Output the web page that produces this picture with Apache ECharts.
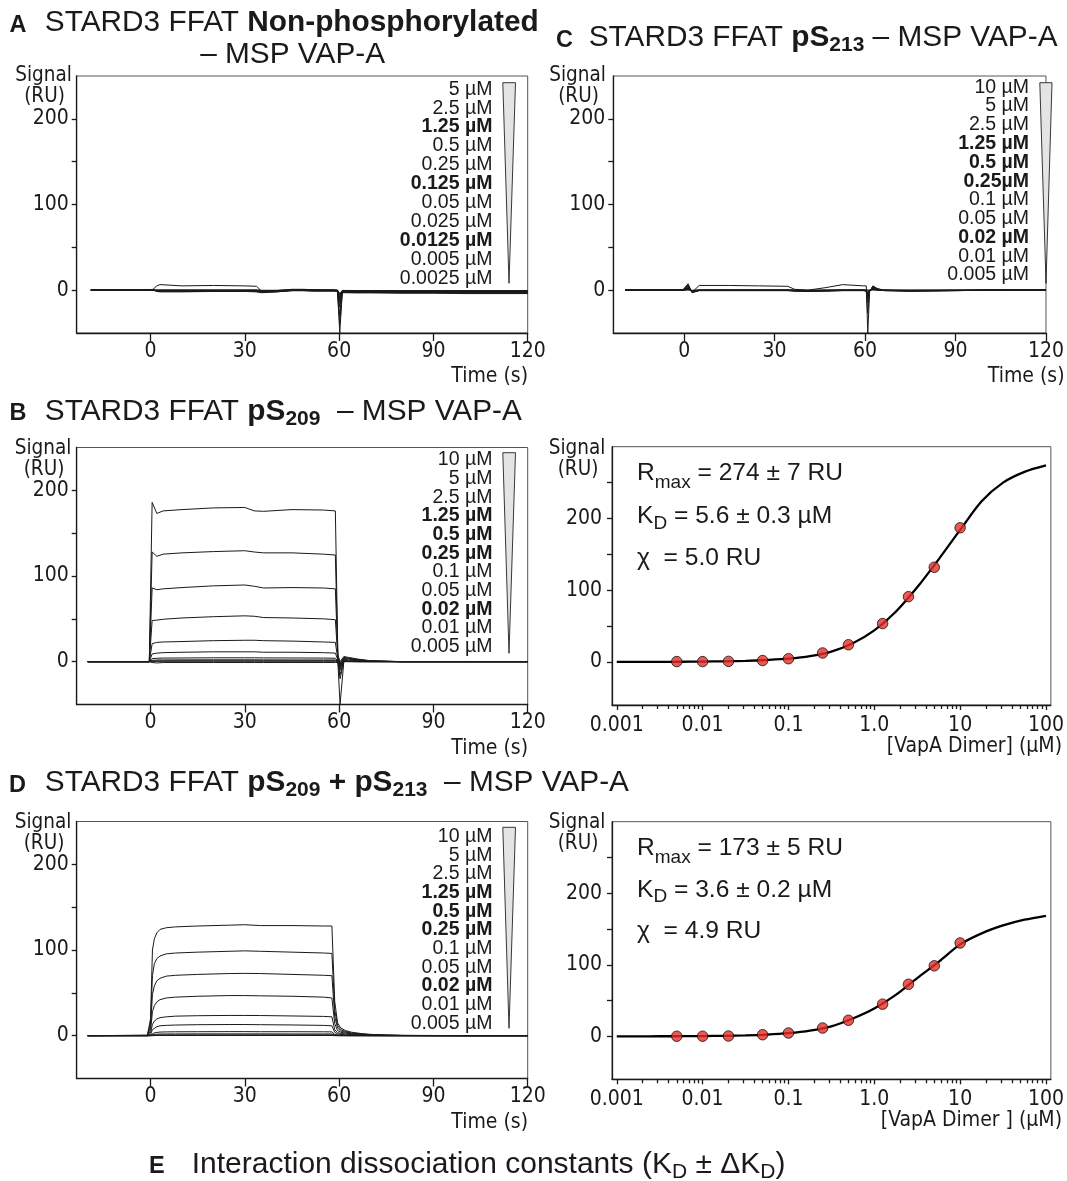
<!DOCTYPE html>
<html><head><meta charset="utf-8">
<script src="https://cdn.jsdelivr.net/npm/echarts@6/dist/echarts.min.js"></script>
<style>html,body{margin:0;padding:0;background:#fff}#c{width:1067px;height:1181px}</style>
</head><body><div id="c"></div>
<script>
// ---------------- DATA ----------------
const timeTicks = [0, 30, 60, 90, 120];
const sigTicks = [0, 50, 100, 150, 200];
const sigLabels = [0, 100, 200];
const fitTicks = [0, 50, 100, 150, 200, 250];
const fitLabels = [0, 100, 200];
const concTickVals = [0.001, 0.01, 0.1, 1, 10, 100];
const concTickLabels = ['0.001', '0.01', '0.1', '1.0', '10', '100'];
const minorMult = [2, 3, 4, 5, 6, 7, 8, 9];
const minorDecades = [0.001, 0.01, 0.1, 1, 10];

// Panel A (non-phosphorylated)
const concA = ['5 µM','2.5 µM','1.25 µM','0.5 µM','0.25 µM','0.125 µM','0.05 µM','0.025 µM','0.0125 µM','0.005 µM','0.0025 µM'];
const boldA = ['1.25 µM','0.125 µM','0.0125 µM'];
const timeA = [-19, -1, 0.8, 2, 3, 10, 20, 30, 33.7, 35.3, 40, 45, 48.5, 52, 58.5, 59.5, 60.2, 61, 65, 70, 80, 90, 100, 110, 120];
const respA = [
  [0,0,1,5,6.5,5,5.5,5,4.5,-1,-0.5,1,1,0.5,0,-2,-50,-3,-3,-3,-3.5,-3.5,-4,-4,-4],
  [0,0,0,-1.5,-2,-2,-1.5,-1.5,-2,-3,-2,-0.5,-0.5,-1,-1,-2,-40,-2.5,-3,-3,-3,-3,-3.5,-3.5,-3.5],
  [0,0,0,-1,-1.5,-1.5,-1.2,-1.2,-1.5,-2.5,-2,-0.5,-0.5,-1,-1,-1.5,-30,-2,-2.5,-2.5,-3,-3,-3,-3,-3],
  [0,0,0,-1,-1,-1,-1,-1,-1,-2,-1.5,-0.5,-0.5,-0.5,-0.5,-1,-20,-2,-2,-2.5,-2.5,-2.5,-2.5,-3,-3],
  [0,0,0,-0.5,-0.8,-0.8,-0.8,-0.8,-1,-1.5,-1.2,-0.3,-0.3,-0.5,-0.5,-1,-15,-1.5,-2,-2,-2,-2,-2,-2.5,-2.5],
  [0,0,0,-0.5,-0.5,-0.5,-0.5,-0.5,-0.5,-1,-1,-0.2,-0.2,-0.3,-0.3,-0.5,-12,-1.5,-1.5,-1.5,-1.8,-1.8,-2,-2,-2],
  [0,0,0,-0.3,-0.3,-0.3,-0.3,-0.3,-0.3,-0.8,-0.8,0,0,-0.2,-0.2,-0.5,-10,-1,-1.2,-1.2,-1.5,-1.5,-1.5,-1.5,-1.5],
  [0,0,0,-0.2,-0.2,-0.2,-0.2,-0.2,-0.2,-0.5,-0.5,0,0,0,0,-0.3,-8,-1,-1,-1,-1.2,-1.2,-1.2,-1.2,-1.2],
  [0,0,0,-0.1,-0.1,-0.1,-0.1,-0.1,-0.1,-0.4,-0.4,0,0,0,0,-0.2,-6,-0.8,-0.8,-0.8,-1,-1,-1,-1,-1],
  [0,0,0,0,0,0,0,0,0,-0.3,-0.3,0,0,0,0,-0.1,-5,-0.5,-0.6,-0.6,-0.8,-0.8,-0.8,-0.8,-0.8],
  [0,0,0,0,0,0,0,0,0,-0.2,-0.2,0,0,0,0,0,-4,-0.3,-0.4,-0.4,-0.5,-0.5,-0.5,-0.5,-0.5]
];

// Panel C (pS213)
const concC = ['10 µM','5 µM','2.5 µM','1.25 µM','0.5 µM','0.25µM','0.1 µM','0.05 µM','0.02 µM','0.01 µM','0.005 µM'];
const boldC = ['1.25 µM','0.5 µM','0.25µM','0.02 µM'];
const timeC = [-19.5, -0.5, 1.3, 2.6, 5, 15, 25, 34.4, 36.6, 41, 47, 52.6, 59.6, 60.4, 60.9, 61.5, 62.6, 64, 66.3, 75, 90, 105, 120];
const respC = [
  [0,0,7.5,-2.5,5.5,5.5,5,4.5,1,0,3,6.5,5,5,-50,-2,5,2,0,-1,-0.5,0,0],
  [0,0,6,-3,-0.5,-0.5,-0.5,-0.5,-1,-1.5,-1,-0.5,-0.5,-1,-27,-1.5,4.5,1.5,-0.5,-1,-0.5,0,0],
  [0,0,5,-2.5,-0.5,-0.5,-0.5,-0.5,-1,-1.5,-1,-0.5,-0.5,-1,-15,-1,4,1.5,-0.5,-1,-0.5,0,0],
  [0,0,4,-2,-0.3,-0.3,-0.3,-0.3,-0.8,-1.2,-0.8,-0.3,-0.3,-0.8,-10,-1,3.5,1,-0.5,-0.8,-0.5,0,0],
  [0,0,3,-1.5,-0.2,-0.2,-0.2,-0.2,-0.5,-1,-0.5,-0.2,-0.2,-0.5,-8,-0.8,3,1,-0.3,-0.8,-0.3,0,0],
  [0,0,2.5,-1.2,-0.2,-0.2,-0.2,-0.2,-0.5,-0.8,-0.5,-0.2,-0.2,-0.5,-6,-0.5,2.5,0.8,-0.3,-0.5,-0.3,0,0],
  [0,0,2,-1,0,0,0,0,-0.3,-0.5,-0.3,0,0,-0.3,-5,-0.5,2,0.5,-0.2,-0.5,-0.2,0,0],
  [0,0,1.5,-0.8,0,0,0,0,-0.2,-0.4,-0.2,0,0,-0.2,-4,-0.3,1.5,0.5,-0.2,-0.3,-0.2,0,0],
  [0,0,1,-0.5,0,0,0,0,-0.1,-0.3,-0.1,0,0,-0.1,-3,-0.2,1,0.3,0,-0.2,-0.1,0,0],
  [0,0,0.5,-0.3,0,0,0,0,0,-0.2,0,0,0,0,-2,-0.1,0.5,0.2,0,-0.1,0,0,0],
  [0,0,0.3,-0.2,0,0,0,0,0,-0.1,0,0,0,0,-1,0,0.3,0.1,0,0,0,0,0]
];

// Panel B (pS209)
const concB = ['10 µM','5 µM','2.5 µM','1.25 µM','0.5 µM','0.25 µM','0.1 µM','0.05 µM','0.02 µM','0.01 µM','0.005 µM'];
const boldB = ['1.25 µM','0.5 µM','0.25 µM','0.02 µM'];
const timeB = [-20, -0.4, 0.5, 2, 4, 10, 20, 30, 33, 36, 45, 55, 58.8, 59.6, 60.3, 61.5, 63, 66, 70, 80, 100, 120];
const respB = [
  [0,0,186,173,176,177.5,179.5,180,176,175.5,177.5,177,176,8,0,6,5,3,1,0,0,0],
  [0,0,128,123,125.5,127,128.5,129.5,128,127,127,125.5,124.5,6,-2,5,4,2.5,1,0,0,0],
  [0,0,86,84,85,86.5,88.5,89.5,88,86,86.5,86,85,5,-3,4,3.5,2,0.8,0,0,0],
  [0,0,48,48.5,49.5,51,52.5,53.5,53,51.5,51,50,49,4,-4,3.5,3,1.5,0.6,0,0,0],
  [0,0,21,22.5,23,23.5,24.5,25,25,24.5,24,23,22.5,3,-5,2.5,2,1,0.4,0,0,0],
  [0,0,9,10,10.5,11,11.5,11.5,11.5,11,11,10.5,10,2,-6,1.5,1,0.5,0.2,0,0,0],
  [0,0,3.5,4,4.2,4.3,4.5,4.5,4.5,4.4,4.3,4.2,4,1,-8,1,0.5,0.3,0.1,0,0,0],
  [0,0,1.5,2,2,2.1,2.2,2.2,2.2,2.1,2,2,2,0.5,-10,0.5,0.3,0.1,0,0,0,0],
  [0,0,0.6,0.8,0.9,1,1,1,1,1,1,1,1,0.3,-15,0.3,0.2,0,0,0,0,0],
  [0,0,0.3,0.4,0.5,0.5,0.5,0.5,0.5,0.5,0.5,0.5,0.5,0.1,-20,0.2,0.1,0,0,0,0,0],
  [0,0,-1,-1.5,-1,-1,-1,-1,-1,-1,-1,-1,-1,-1,-50,0,0,0,0,0,0,0]
];

// Panel D (pS209 + pS213)
const concD = ['10 µM','5 µM','2.5 µM','1.25 µM','0.5 µM','0.25 µM','0.1 µM','0.05 µM','0.02 µM','0.01 µM','0.005 µM'];
const boldD = ['1.25 µM','0.5 µM','0.25 µM','0.02 µM'];
const timeD = [-20, -1, 0, 0.6, 1.2, 2, 3, 5, 8, 15, 25, 30, 35, 45, 55, 57.7, 58.6, 59.5, 60.5, 62, 64, 67, 70, 75, 80, 90, 100, 120];
const respD = [
  [0,0.5,20,100,113,120,124,126,127,128,129,129.5,128.5,128.5,128,128,40,15,9,6,4,2.5,1.5,0.8,0.4,0.2,0,0],
  [0,0.4,15,70,84,90,93,95.5,96.5,97.5,98.5,99,98.5,97.5,96.5,96,30,12,7,5,3,2,1.2,0.6,0.3,0.1,0,0],
  [0,0.3,10,48,58,64,67,69.5,70.5,71.5,72.5,72.7,72.5,71.5,70.5,70,22,9,5.5,4,2.5,1.5,1,0.5,0.2,0.1,0,0],
  [0,0.2,6,28,35,39.5,42,44,45,46,46.8,46.8,46.5,46,45,44,14,6,4,3,2,1.2,0.8,0.4,0.2,0,0,0],
  [0,0.1,3,13,17,19.5,21,22,22.8,23.3,23.6,23.6,23.5,23,22.5,22,7,3.5,2.5,2,1.2,0.8,0.5,0.2,0.1,0,0,0],
  [0,0.1,1.5,7,9,10.5,11.5,12,12.4,12.8,13,13,12.8,12.5,12,11.5,4,2,1.5,1,0.7,0.4,0.3,0.1,0,0,0,0],
  [0,0,0.5,2.5,3.3,3.8,4.2,4.4,4.5,4.6,4.7,4.7,4.6,4.6,4.5,4.4,1.5,0.8,0.6,0.4,0.3,0.2,0.1,0,0,0,0,0],
  [0,0,0.2,1.1,1.5,1.7,1.9,2,2,2.1,2.1,2.1,2.1,2,2,2,0.7,0.4,0.3,0.2,0.1,0.1,0,0,0,0,0,0],
  [0,0,0.1,0.4,0.6,0.7,0.7,0.8,0.8,0.8,0.8,0.8,0.8,0.8,0.8,0.8,0.3,0.2,0.1,0.1,0,0,0,0,0,0,0,0],
  [0,0,0,0.2,0.3,0.3,0.4,0.4,0.4,0.4,0.4,0.4,0.4,0.4,0.4,0.4,0.1,0.1,0,0,0,0,0,0,0,0,0,0],
  [0,0,0,0.1,0.1,0.2,0.2,0.2,0.2,0.2,0.2,0.2,0.2,0.2,0.2,0.2,0.1,0,0,0,0,0,0,0,0,0,0,0]
];

// Steady-state fits (B: pS209, D: pS209 + pS213)
const fitConc = [0.005, 0.01, 0.02, 0.05, 0.1, 0.25, 0.5, 1.25, 2.5, 5, 10];
const fitRespB = [0.5, 0.5, 0.8, 2, 4.5, 12.5, 24, 53.5, 91, 132, 187];
const fitRespD = [0.2, 0.2, 0.5, 2.3, 4.7, 11.7, 22.5, 45, 72.8, 98.6, 130.5];
const curveConc = [0.001, 0.00178, 0.00316, 0.00562, 0.01, 0.0178, 0.0316, 0.0562, 0.1, 0.178, 0.316, 0.562, 1, 1.78, 3.16, 5.62, 10, 17.8, 31.6, 56.2, 100];
const curveB = [0.05, 0.1, 0.15, 0.3, 0.5, 0.9, 1.5, 2.7, 4.5, 8, 14.5, 26, 44, 70, 104, 143, 184, 224, 250, 265, 274];
const curveD = [0.05, 0.08, 0.15, 0.25, 0.45, 0.8, 1.4, 2.5, 4.5, 8, 14, 25, 39, 58, 81.5, 104, 128.5, 144, 155, 163, 168.5];

// ---------------- STYLE / LAYOUT ----------------
const SANS = "'Liberation Sans', Arial, Helvetica, sans-serif";
const NARROW = "'Liberation Sans Narrow', 'Arial Narrow', 'DejaVu Sans Condensed', sans-serif";
const INK = '#1a1a1a';
const LOGMIN = 0.00088, LOGMAX = 114;

const grids = [
  {left: 76.7, top: 76, width: 451, height: 257},      // 0 A
  {left: 613.3, top: 76, width: 451, height: 257},     // 1 C
  {left: 76.7, top: 447.5, width: 451, height: 257},   // 2 B sensorgram
  {left: 612, top: 446.7, width: 452, height: 258.3},  // 3 B fit
  {left: 76.7, top: 821.5, width: 451, height: 257},   // 4 D sensorgram
  {left: 612, top: 821.7, width: 452, height: 257.6}   // 5 D fit
].map(g => Object.assign({show: true, borderColor: '#555', borderWidth: 1, backgroundColor: 'transparent', containLabel: false}, g));

const axLine = {show: true, onZero: false, lineStyle: {color: INK, width: 1.3}};
const tickStyle = {color: INK, width: 1.3};
const labelNarrow = {fontFamily: NARROW, fontSize: 21, color: INK};

function timeAxis(gi) {
  return {type: 'value', gridIndex: gi, min: -23.5, max: 120, position: 'bottom',
    axisLine: axLine, splitLine: {show: false},
    axisTick: {show: true, customValues: timeTicks, length: 8, lineStyle: tickStyle},
    axisLabel: Object.assign({customValues: timeTicks, margin: 8}, labelNarrow)};
}
function sigAxis(gi) {
  return {type: 'value', gridIndex: gi, min: -50, max: 250, position: 'left',
    axisLine: axLine, splitLine: {show: false},
    axisTick: {show: true, customValues: sigTicks, length: 5, lineStyle: tickStyle},
    axisLabel: Object.assign({customValues: sigLabels, margin: 8}, labelNarrow)};
}
function concAxis(gi) {
  return {type: 'log', logBase: 10, gridIndex: gi, min: LOGMIN, max: LOGMAX, position: 'bottom',
    axisLine: axLine, splitLine: {show: false},
    axisTick: {show: true, length: 5, lineStyle: tickStyle},
    axisLabel: Object.assign({margin: 10, showMinLabel: false, showMaxLabel: false,
      formatter: v => { const i = concTickVals.findIndex(t => Math.abs(Math.log10(v / t)) < 1e-6); return i >= 0 ? concTickLabels[i] : ''; }}, labelNarrow)};
}
const minorExp = [];
minorDecades.forEach(d => minorMult.forEach(m => minorExp.push(Math.log10(m * d))));
function minorAxis(gi) {
  return {type: 'value', gridIndex: gi, min: Math.log10(LOGMIN), max: Math.log10(LOGMAX), position: 'bottom',
    axisLine: {show: false, onZero: false}, axisLabel: {show: false}, splitLine: {show: false},
    axisTick: {show: true, customValues: minorExp, length: 4, lineStyle: tickStyle}};
}
function fitAxis(gi) {
  return {type: 'value', gridIndex: gi, min: -60, max: 300, position: 'left',
    axisLine: axLine, splitLine: {show: false},
    axisTick: {show: true, customValues: fitTicks, length: 5, lineStyle: tickStyle},
    axisLabel: Object.assign({customValues: fitLabels, margin: 10}, labelNarrow)};
}

function traces(ai, times, resp) {
  return resp.map(arr => ({type: 'line', xAxisIndex: ai, yAxisIndex: ai, symbol: 'none', showSymbol: false,
    silent: true, lineStyle: {color: INK, width: 1}, data: times.map((t, k) => [t, arr[k]]), z: 2}));
}
function fitSeries(ai, resp, curve) {
  return [
    {type: 'line', xAxisIndex: ai, yAxisIndex: ai, symbol: 'none', showSymbol: false, silent: true,
      smooth: 0.3, lineStyle: {color: '#000', width: 2.3},
      data: curveConc.map((c, k) => [c, curve[k]]), z: 3},
    {type: 'scatter', xAxisIndex: ai, yAxisIndex: ai, symbol: 'circle', symbolSize: 10.5, silent: true,
      itemStyle: {color: '#e3312a', borderColor: '#111', borderWidth: 1},
      data: fitConc.map((c, k) => [c, resp[k]]), z: 5}
  ];
}

// ---------------- GRAPHIC TEXT ----------------
function T(x, y, text, fs, opts) {
  opts = opts || {};
  const align = opts.align || 'left', va = opts.va || 'middle';
  return {type: 'text', x: x, y: y, silent: true, z: 100,
    style: {text: text, fill: INK, fontFamily: opts.family || SANS, fontSize: fs, fontWeight: opts.weight || 'normal',
      align: align, textAlign: align, verticalAlign: va, textVerticalAlign: va, rich: opts.rich}};
}
const TFS = 29.8;
const titleRich = {
  n: {fontFamily: SANS, fontSize: TFS, lineHeight: 30, verticalAlign: 'top', fill: INK},
  b: {fontFamily: SANS, fontSize: TFS, fontWeight: 'bold', lineHeight: 30, verticalAlign: 'top', fill: INK},
  s: {fontFamily: SANS, fontSize: 21, fontWeight: 'bold', lineHeight: 21, padding: [12, 0, 0, 0], verticalAlign: 'top', fill: INK}
};
const eRich = {
  n: {fontFamily: SANS, fontSize: 30, lineHeight: 30, verticalAlign: 'top', fill: INK},
  s: {fontFamily: SANS, fontSize: 21, lineHeight: 21, padding: [12, 0, 0, 0], verticalAlign: 'top', fill: INK}
};
const fitRich = {
  n: {fontFamily: SANS, fontSize: 24.6, lineHeight: 25, verticalAlign: 'top', fill: INK},
  m: {fontFamily: SANS, fontSize: 19, lineHeight: 19, padding: [12.6, 0, 0, 0], verticalAlign: 'top', fill: INK},
  d: {fontFamily: SANS, fontSize: 19, lineHeight: 19, padding: [9.9, 0, 0, 0], verticalAlign: 'top', fill: INK}
};

const graphics = [];
function panelLabel(x, baseline, ch) { graphics.push(T(x, baseline - 0.3465 * 23.5, ch, 23.5, {weight: 'bold'})); }
function titleRichText(x, baseline, str) { graphics.push(T(x, baseline - 25.3, str, TFS, {va: 'top', rich: titleRich})); }

panelLabel(9.5, 33.3, 'A');
titleRichText(44.8, 33.3, '{n|STARD3 FFAT }{b|Non-phosphorylated}');
graphics.push(T(292.6, 65 - 0.3465 * TFS, '– MSP VAP-A', TFS, {align: 'center'}));
panelLabel(556, 48.3, 'C');
titleRichText(588.7, 48.3, '{n|STARD3 FFAT }{b|pS}{s|213}{n| – MSP VAP-A}');
panelLabel(9.5, 421.7, 'B');
titleRichText(44.8, 421.7, '{n|STARD3 FFAT }{b|pS}{s|209}{n|  – MSP VAP-A}');
panelLabel(9, 793.3, 'D');
titleRichText(44.8, 793.3, '{n|STARD3 FFAT }{b|pS}{s|209}{b| + pS}{s|213}{n|  – MSP VAP-A}');
panelLabel(149, 1175, 'E');
graphics.push(T(191.7, 1175 - 25.4, '{n|Interaction dissociation constants (K}{s|D}{n| ± ΔK}{s|D}{n|)}', 30, {va: 'top', rich: eRich}));

// Signal (RU) axis titles
[[43.5, 76], [577.5, 76], [43, 449], [577, 448.5], [43, 823], [577, 823]].forEach(p => {
  graphics.push(T(p[0], p[1], 'Signal', 20.5, {align: 'center', family: NARROW}));
  graphics.push(T(p[0] + 1, p[1] + 21, '(RU)', 20.5, {align: 'center', family: NARROW}));
});
// x-axis titles
[[528, 376.7], [1064.5, 376.7], [528, 748.7], [528, 1122.7]].forEach(p =>
  graphics.push(T(p[0], p[1], 'Time (s)', 21, {align: 'right', family: NARROW})));
graphics.push(T(1062, 746.7, '[VapA Dimer] (µM)', 21, {align: 'right', family: NARROW}));
graphics.push(T(1062, 1121, '[VapA Dimer ] (µM)', 21, {align: 'right', family: NARROW}));

// fit annotations
function fitText(x, b1, b2, b3, rmax, kd, chi) {
  graphics.push(T(x, b1 - 21, '{n|R}{m|max}{n| = ' + rmax + '}', 24.6, {va: 'top', rich: fitRich}));
  graphics.push(T(x, b2 - 21, '{n|K}{d|D}{n| = ' + kd + '}', 24.6, {va: 'top', rich: fitRich}));
  graphics.push(T(x, b3 - 21, '{n|χ  = ' + chi + '}', 24.6, {va: 'top', rich: fitRich}));
}
fitText(637, 481.7, 525, 566.7, '274 ± 7 RU', '5.6 ± 0.3 µM', '5.0 RU');
fitText(637, 856.7, 898.3, 940, '173 ± 5 RU', '3.6 ± 0.2 µM', '4.9 RU');

// concentration lists + gradient wedges
function concList(labels, bolds, xr, y0, dy, tri) {
  labels.forEach((s, i) => graphics.push(T(xr, y0 + i * dy, s, 19.5,
    {align: 'right', weight: bolds.indexOf(s) >= 0 ? 'bold' : 'normal'})));
  graphics.push({type: 'polygon', silent: true, z: 99, shape: {points: tri},
    style: {fill: '#e4e4e4', stroke: '#222', lineWidth: 0.9}});
}
concList(concA, boldA, 492.4, 89.3, 18.9, [[502.8, 82.7], [515.5, 82.7], [509, 283.3]]);
concList(concC, boldC, 1029, 87.3, 18.77, [[1039.8, 82.7], [1052, 82.7], [1046, 283.3]]);
concList(concB, boldB, 492.4, 460, 18.67, [[502.8, 452.7], [515.5, 452.7], [509, 653.3]]);
concList(concD, boldD, 492.4, 836.7, 18.67, [[502.8, 827.3], [515.5, 827.3], [509, 1028.3]]);

// ---------------- OPTION ----------------
const option = {
  animation: false,
  backgroundColor: '#fff',
  grid: grids,
  xAxis: [timeAxis(0), timeAxis(1), timeAxis(2), concAxis(3), timeAxis(4), concAxis(5), minorAxis(3), minorAxis(5)],
  yAxis: [sigAxis(0), sigAxis(1), sigAxis(2), fitAxis(3), sigAxis(4), fitAxis(5)],
  series: [].concat(
    traces(0, timeA, respA),
    traces(1, timeC, respC),
    traces(2, timeB, respB),
    traces(4, timeD, respD),
    fitSeries(3, fitRespB, curveB),
    fitSeries(5, fitRespD, curveD)
  ),
  graphic: graphics
};
const chart = echarts.init(document.getElementById('c'), null, {renderer: 'canvas'});
chart.setOption(option);
</script></body></html>
